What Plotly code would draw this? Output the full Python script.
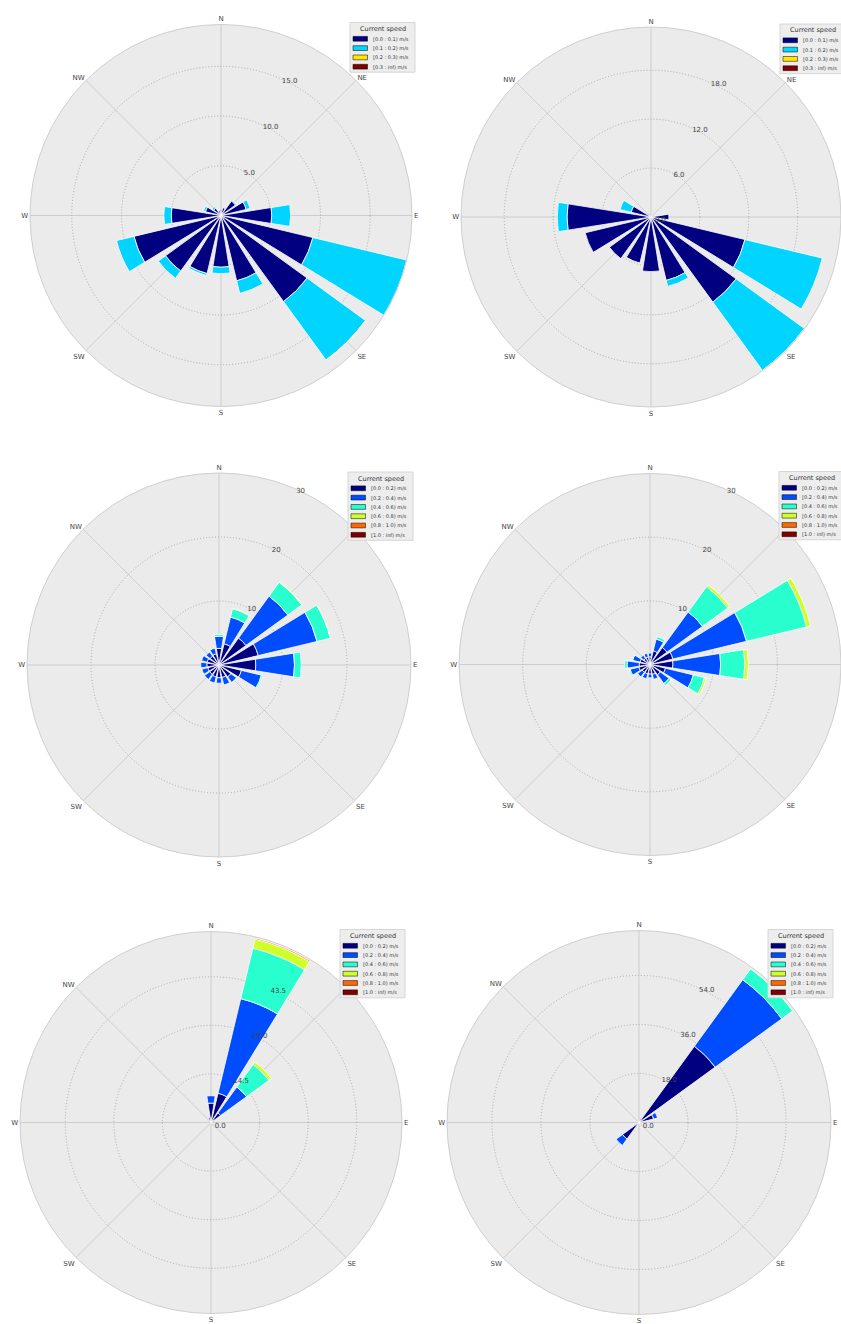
import plotly.graph_objects as go

FIG_W, FIG_H = 841, 1324

# 16 compass sectors (degrees clockwise from north)
sector_deg = [0, 22.5, 45, 67.5, 90, 112.5, 135, 157.5,
              180, 202.5, 225, 247.5, 270, 292.5, 315, 337.5]
compass_deg = [0, 45, 90, 135, 180, 225, 270, 315]
compass_labels = ["N", "NE", "E", "SE", "S", "SW", "W", "NW"]

# speed classes
bins_fine = ["[0.0 : 0.1) m/s", "[0.1 : 0.2) m/s", "[0.2 : 0.3) m/s", "[0.3 : inf) m/s"]
bins_wide = ["[0.0 : 0.2) m/s", "[0.2 : 0.4) m/s", "[0.4 : 0.6) m/s",
             "[0.6 : 0.8) m/s", "[0.8 : 1.0) m/s", "[1.0 : inf) m/s"]
colors_fine = ["#000080", "#00D4FF", "#FFE500", "#800000"]
colors_wide = ["#000080", "#004CFF", "#29FFCE", "#CEFF29", "#FF6800", "#800000"]

# frequency (%) per sector, order N, NNE, ... NNW
rose1_s0 = [0.6, 0.8, 1.8, 2.6, 5.1, 9.5, 10.7, 6.75, 5.2, 6.0, 6.9, 9.0, 5.0, 1.6, 0.9, 0.5]
rose1_s1 = [0.0, 0.0, 0.1, 0.4, 1.9, 9.7, 7.25, 1.3, 0.65, 0.2, 0.9, 1.8, 0.75, 0.2, 0.2, 0.0]
rose1_s2 = [0, 0, 0, 0, 0, 0, 0.05, 0, 0, 0, 0, 0, 0, 0, 0, 0]
rose1_s3 = [0, 0, 0, 0, 0, 0, 0, 0, 0, 0, 0, 0, 0, 0, 0, 0]

rose2_s0 = [0.3, 0.2, 0.2, 0.4, 2.2, 11.85, 12.9, 8.0, 6.7, 5.8, 6.3, 8.3, 10.3, 2.5, 0.4, 0.3]
rose2_s1 = [0, 0, 0, 0, 0, 9.75, 10.35, 0.75, 0, 0, 0, 0, 1.2, 1.4, 0, 0]
rose2_s2 = [0, 0, 0, 0, 0, 0, 0.05, 0, 0, 0, 0, 0, 0, 0, 0, 0]
rose2_s3 = [0, 0, 0, 0, 0, 0, 0, 0, 0, 0, 0, 0, 0, 0, 0, 0]

rose3_s0 = [2.6, 3.4, 5.2, 6.3, 5.75, 3.6, 2.3, 2.0, 2.0, 1.9, 1.8, 1.8, 1.9, 1.9, 1.7, 1.8]
rose3_s1 = [1.9, 4.3, 8.1, 9.45, 6.05, 3.2, 1.1, 1.2, 0.85, 1.0, 1.0, 0.95, 0.95, 0.9, 0.8, 0.9]
rose3_s2 = [0.3, 1.35, 2.7, 2.15, 1.05, 0.2, 0.05, 0, 0, 0, 0, 0, 0, 0, 0, 0]
rose3_s3 = [0, 0.05, 0.1, 0.05, 0, 0, 0, 0, 0, 0, 0, 0, 0, 0, 0, 0]
rose3_s4 = [0, 0, 0, 0, 0, 0, 0, 0, 0, 0, 0, 0, 0, 0, 0, 0]
rose3_s5 = [0, 0, 0, 0, 0, 0, 0, 0, 0, 0, 0, 0, 0, 0, 0, 0]

rose4_s0 = [1.2, 2.2, 3.3, 3.7, 3.6, 2.5, 2.0, 1.6, 1.5, 1.5, 1.5, 1.8, 1.7, 1.6, 1.2, 1.2]
rose4_s1 = [0.6, 1.9, 6.9, 11.9, 7.5, 4.5, 1.7, 0.8, 0.6, 0.8, 0.9, 1.4, 1.9, 1.2, 0.6, 0.6]
rose4_s2 = [0, 0.4, 4.9, 9.7, 3.8, 1.8, 0.4, 0, 0, 0, 0, 0.2, 0.4, 0.15, 0, 0]
rose4_s3 = [0, 0, 0.4, 0.65, 0.55, 0.3, 0.05, 0, 0, 0, 0, 0, 0, 0, 0, 0]
rose4_s4 = [0, 0, 0, 0, 0, 0, 0, 0, 0, 0, 0, 0, 0, 0, 0, 0]
rose4_s5 = [0, 0, 0, 0, 0, 0, 0, 0, 0, 0, 0, 0, 0, 0, 0, 0]

rose5_s0 = [5.8, 9.0, 3.5, 1.0, 0.4, 0.3, 0.2, 0.2, 0.2, 0.2, 0.3, 0.3, 0.3, 0.4, 0.8, 1.5]
rose5_s1 = [2.2, 29.0, 9.6, 0, 0, 0, 0, 0, 0, 0, 0, 0, 0, 0, 0, 0]
rose5_s2 = [0, 15.5, 8.3, 0, 0, 0, 0, 0, 0, 0, 0, 0, 0, 0, 0, 0]
rose5_s3 = [0, 2.8, 0.9, 0, 0, 0, 0, 0, 0, 0, 0, 0, 0, 0, 0, 0]
rose5_s4 = [0, 0.4, 0, 0, 0, 0, 0, 0, 0, 0, 0, 0, 0, 0, 0, 0]
rose5_s5 = [0, 0.05, 0, 0, 0, 0, 0, 0, 0, 0, 0, 0, 0, 0, 0, 0]

rose6_s0 = [0.4, 1.5, 34.6, 5.5, 1.0, 0.4, 0.3, 0.3, 0.3, 0.4, 7.5, 1.0, 0.4, 0.3, 0.3, 0.3]
rose6_s1 = [0, 0, 30.2, 1.5, 0, 0, 0, 0, 0, 0, 2.9, 0, 0, 0, 0, 0]
rose6_s2 = [0, 0, 4.9, 0, 0, 0, 0, 0, 0, 0, 0, 0, 0, 0, 0, 0]
rose6_s3 = [0, 0, 0, 0, 0, 0, 0, 0, 0, 0, 0, 0, 0, 0, 0, 0]
rose6_s4 = [0, 0, 0, 0, 0, 0, 0, 0, 0, 0, 0, 0, 0, 0, 0, 0]
rose6_s5 = [0, 0, 0, 0, 0, 0, 0, 0, 0, 0, 0, 0, 0, 0, 0, 0]

# radial ticks per rose
rose1_ticks, rose1_ticktext = [5, 10, 15], ["5.0", "10.0", "15.0"]
rose2_ticks, rose2_ticktext = [0, 6, 12, 18], ["0.0", "6.0", "12.0", "18.0"]
rose3_ticks, rose3_ticktext = [10, 20, 30], ["10", "20", "30"]
rose4_ticks, rose4_ticktext = [10, 20, 30], ["10", "20", "30"]
rose5_ticks, rose5_ticktext = [0, 14.5, 29, 43.5], ["0.0", "14.5", "29.0", "43.5"]
rose6_ticks, rose6_ticktext = [0, 18, 36, 54], ["0.0", "18.0", "36.0", "54.0"]

# layout of the six roses: centre (px), radius (px), radial extent
roses = [
    dict(cx=221, cy=215.5, R=191, rmax=19.2, ticks=rose1_ticks, text=rose1_ticktext,
         bins=bins_fine, colors=colors_fine, series=[rose1_s0, rose1_s1, rose1_s2, rose1_s3]),
    dict(cx=651, cy=217, R=190, rmax=23.3, ticks=rose2_ticks, text=rose2_ticktext,
         bins=bins_fine, colors=colors_fine, series=[rose2_s0, rose2_s1, rose2_s2, rose2_s3]),
    dict(cx=219, cy=665, R=192, rmax=30, ticks=rose3_ticks, text=rose3_ticktext,
         bins=bins_wide, colors=colors_wide,
         series=[rose3_s0, rose3_s1, rose3_s2, rose3_s3, rose3_s4, rose3_s5]),
    dict(cx=650, cy=664.5, R=191, rmax=30, ticks=rose4_ticks, text=rose4_ticktext,
         bins=bins_wide, colors=colors_wide,
         series=[rose4_s0, rose4_s1, rose4_s2, rose4_s3, rose4_s4, rose4_s5]),
    dict(cx=211, cy=1122.5, R=191, rmax=57, ticks=rose5_ticks, text=rose5_ticktext,
         bins=bins_wide, colors=colors_wide,
         series=[rose5_s0, rose5_s1, rose5_s2, rose5_s3, rose5_s4, rose5_s5]),
    dict(cx=639, cy=1122.5, R=192, rmax=70.5, ticks=rose6_ticks, text=rose6_ticktext,
         bins=bins_wide, colors=colors_wide,
         series=[rose6_s0, rose6_s1, rose6_s2, rose6_s3, rose6_s4, rose6_s5]),
]

FONT = "DejaVu Sans"
BAR_OPENING = 22.5 * 0.8
RADIAL_ANGLE = 67.5

fig = go.Figure()
layout = dict(
    width=FIG_W, height=FIG_H, autosize=False,
    margin=dict(l=0, r=0, t=0, b=0),
    paper_bgcolor="white", plot_bgcolor="white",
    font=dict(family=FONT, size=7, color="#333333"),
    showlegend=False,
    shapes=[], annotations=[],
)


def px_x(x):
    return x / FIG_W


def px_y(y):
    return 1 - y / FIG_H


for i, rose in enumerate(roses):
    key = "polar" if i == 0 else f"polar{i + 1}"
    cx, cy, R = rose["cx"], rose["cy"], rose["R"]
    for label, color, vals in zip(rose["bins"], rose["colors"], rose["series"]):
        fig.add_trace(go.Barpolar(
            r=vals, theta=sector_deg, width=[BAR_OPENING] * len(sector_deg),
            name=label, subplot=key, showlegend=False,
            marker=dict(color=color, line=dict(color="white", width=0.8)),
            hoverinfo="skip",
        ))
    # compass labels that would land past the right page edge are left blank
    label_room = FIG_W - (cx + R)
    compass_text = [t if not (t == "E" and label_room < 10) else "" for t in compass_labels]
    layout[key] = dict(
        domain=dict(x=[px_x(cx - R), min(1.0, px_x(cx + R))],
                    y=[px_y(cy + R), px_y(cy - R)]),
        bgcolor="#EBEBEB",
        barmode="stack",
        angularaxis=dict(
            direction="clockwise", rotation=90, thetaunit="degrees",
            tickmode="array", tickvals=compass_deg, ticktext=compass_text,
            ticks="", showline=True, linecolor="#CFCFCF", linewidth=1,
            showgrid=True, gridcolor="#CDCDCD", gridwidth=0.8,
            tickfont=dict(size=7, color="#444444", family=FONT),
        ),
        radialaxis=dict(
            range=[0, rose["rmax"]], tickmode="array",
            tickvals=rose["ticks"], ticktext=rose["text"],
            angle=RADIAL_ANGLE, tickangle=RADIAL_ANGLE, showline=False, ticks="",
            showgrid=True, gridcolor="#ABABAB", gridwidth=0.8, griddash="1px,2px",
            tickfont=dict(size=7, color="#444444", family=FONT),
        ),
    )

    # legend box in the upper-right corner of each rose
    n = len(rose["bins"])
    lx, ty = cx + 129, cy - 193
    box_w = 65
    box_h = 16.3 + 9.3 * (n - 1) + 5.5
    layout["shapes"].append(dict(
        type="rect", xref="paper", yref="paper", layer="above",
        x0=px_x(lx), x1=px_x(lx + box_w), y0=px_y(ty + box_h), y1=px_y(ty),
        fillcolor="#EDEDED", line=dict(color="#D6D6D6", width=1),
    ))
    layout["annotations"].append(dict(
        text="Current speed", xref="paper", yref="paper", showarrow=False,
        x=px_x(lx + box_w / 2), y=px_y(ty + 6.5), xanchor="center", yanchor="middle",
        font=dict(size=6.5, color="#333333", family=FONT),
    ))
    for k, (label, color) in enumerate(zip(rose["bins"], rose["colors"])):
        yc = ty + 16.3 + 9.3 * k
        layout["shapes"].append(dict(
            type="rect", xref="paper", yref="paper", layer="above",
            x0=px_x(lx + 3), x1=px_x(lx + 17.5), y0=px_y(yc + 2.4), y1=px_y(yc - 2.4),
            fillcolor=color, line=dict(color="black", width=0.5),
        ))
        layout["annotations"].append(dict(
            text=label, xref="paper", yref="paper", showarrow=False,
            x=px_x(lx + 21), y=px_y(yc), xanchor="left", yanchor="middle",
            font=dict(size=5, color="#333333", family=FONT),
        ))

fig.update_layout(**layout)
fig.write_html("out.html")
